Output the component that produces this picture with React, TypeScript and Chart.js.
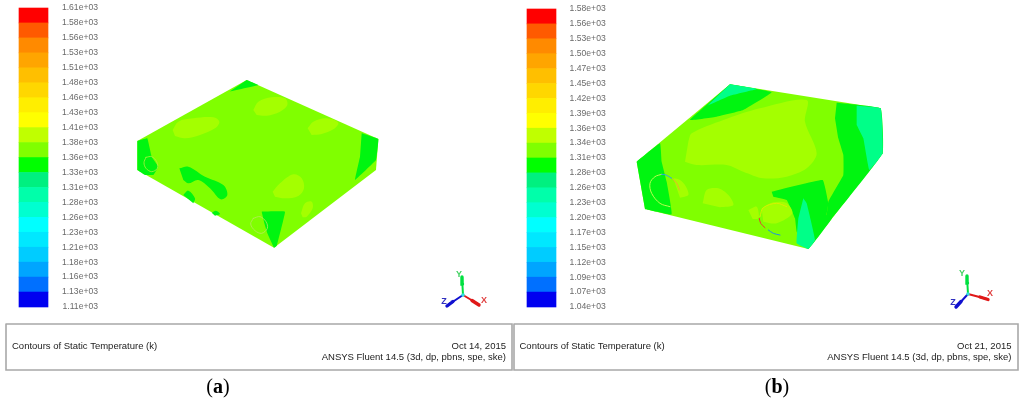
import React, { useEffect, useRef } from "react";
import { Chart, registerables } from "chart.js";

Chart.register(...registerables);

// ---- colour legend ----
const tempTicksA = [1610,1585,1560,1535,1510,1485,1460,1435,1410,1385,1360,1335,1310,1285,1260,1235,1210,1185,1160,1135,1110];
const tempLabelsA = ["1.61e+03","1.58e+03","1.56e+03","1.53e+03","1.51e+03","1.48e+03","1.46e+03","1.43e+03","1.41e+03","1.38e+03","1.36e+03","1.33e+03","1.31e+03","1.28e+03","1.26e+03","1.23e+03","1.21e+03","1.18e+03","1.16e+03","1.13e+03","1.11e+03"];
const tempTicksB = [1580,1553,1526,1499,1472,1445,1418,1391,1364,1337,1310,1283,1256,1229,1202,1175,1148,1121,1094,1067,1040];
const tempLabelsB = ["1.58e+03","1.56e+03","1.53e+03","1.50e+03","1.47e+03","1.45e+03","1.42e+03","1.39e+03","1.36e+03","1.34e+03","1.31e+03","1.28e+03","1.26e+03","1.23e+03","1.20e+03","1.17e+03","1.15e+03","1.12e+03","1.09e+03","1.07e+03","1.04e+03"];
const bandColors = ["#ff0000","#ff5a00","#ff8a00","#ffa500","#ffbf00","#ffd700","#ffee00","#ffff00","#c0ff00","#80ff00","#00ff00","#00f080","#00ffaa","#00ffd0","#00ffff","#00e8ff","#00ccff","#00a5ff","#0070ff","#0000f0"];

// ---- contour regions of panel (a) ----
const BASE = "#80ff00", LIGHT = "#a4ff00", GREEN = "#00f510", TEAL = "#00ff88";
const solidA = [[350,30],[745,207],[738,300],[432,533],[22,300],[22,213]];
const greenA = [
  [[350,30],[385,45],[298,65]],
  [[695,190],[745,207],[738,270],[675,330],[690,260]],
  [[22,213],[52,205],[65,260],[85,290],[70,315],[45,315],[22,300]],
  [[395,425],[465,425],[440,528],[432,533],[412,490],[403,460]],
];
const greenBlobsA = [
  [[148,295],[175,290],[225,320],[280,345],[292,375],[272,388],[240,355],[205,330],[175,340],[160,330]],
  [[160,375],[175,362],[195,385],[190,400]],
  [[245,428],[258,422],[270,432],[255,437]],
];
const lightA = [
  [[370,120],[385,95],[425,82],[465,85],[472,105],[450,125],[410,137],[380,135]],
  [[128,180],[145,155],[190,145],[250,142],[268,155],[255,175],[210,195],[165,205],[135,198]],
  [[533,175],[550,155],[590,145],[625,158],[610,178],[575,192],[545,195]],
  [[428,365],[450,340],[490,313],[515,325],[522,355],[505,378],[465,385],[435,380]],
  [[513,430],[525,400],[545,395],[548,415],[530,440],[518,442]],
];
const ringsA = [
  { pts: [[48,262],[65,260],[80,275],[82,295],[65,305],[48,295],[42,278],[48,262]], color: "#b4f040" },
  { pts: [[370,445],[390,440],[408,455],[412,475],[395,490],[375,482],[362,462],[370,445]], color: "#b8e860" },
];

// ---- contour regions of panel (b) ----
const solidB = [[300,28],[752,100],[758,235],[535,522],[45,402],[20,260]];
const greenB = [
  [[300,28],[425,52],[340,105],[260,125],[180,135],[235,85]],
  [[20,260],[90,205],[95,260],[110,320],[125,418],[45,402]],
  [[620,83],[752,100],[758,235],[606,430],[590,430],[595,380],[640,300],[640,240],[625,190],[615,130]],
  [[425,350],[578,315],[595,385],[590,420],[606,430],[535,522],[500,470],[495,430],[470,375],[430,365]],
];
const tealB = [
  [[300,28],[380,42],[300,62],[232,92]],
  [[680,92],[752,100],[758,235],[718,285],[700,190],[680,150]],
  [[520,370],[530,385],[555,495],[535,522],[500,505],[505,430]],
];
const lightB = [
  [[175,200],[185,175],[280,135],[390,100],[530,75],[525,140],[560,235],[530,280],[470,305],[400,310],[340,290],[290,270],[200,270],[165,260]],
  [[218,385],[230,345],[265,340],[295,360],[310,390],[270,397]],
  [[355,405],[380,395],[386,430],[368,432]],
  [[130,310],[150,315],[168,335],[175,360],[150,368]],
  [[395,400],[430,382],[470,385],[487,415],[440,445],[400,440]],
];
const ringsB = [
  { pts: [[120,395],[90,385],[65,355],[60,325],[75,305],[95,298]], color: "#b8ff50" },
  { pts: [[95,298],[108,300],[125,310]], color: "#30a0e8" },
  { pts: [[128,312],[140,325],[148,345]], color: "#e8b030" },
  { pts: [[388,430],[392,445],[405,458]], color: "#e84030" },
  { pts: [[415,465],[430,475],[450,480]], color: "#2090e0" },
  { pts: [[390,425],[400,398],[440,385],[470,395]], color: "#d8f000" },
];

// ---- orientation triads (page coordinates) ----
const triadsA = [
  { pts: [[463,295],[462,277]], tip: [[462.5,284],[462,277]], color: "#00e040" },
  { pts: [[463,295],[448,305]], tip: [[453,301.5],[447,306]], color: "#1010d0" },
  { pts: [[463,295],[478,304]], tip: [[472,300.5],[479,305]], color: "#e01818" },
];
const triadsB = [
  { pts: [[968,294],[967,277]], tip: [[967.5,283],[967,276]], color: "#00e040" },
  { pts: [[968,294],[957,306]], tip: [[961,301.5],[956,307]], color: "#1010d0" },
  { pts: [[968,294],[987,299]], tip: [[980,297],[988,299.5]], color: "#e01818" },
];
const triadDots = [[463,295],[968,294]];
const triadLetters = [
  { t: "Y", x: 459, y: 275, c: "#40d060" }, { t: "Z", x: 444, y: 302, c: "#3030c0" }, { t: "X", x: 484, y: 301, c: "#e04040" },
  { t: "Y", x: 962, y: 274, c: "#40d060" }, { t: "Z", x: 953, y: 303, c: "#3030c0" }, { t: "X", x: 990, y: 294, c: "#e04040" },
];

// ---- footers ----
const frames = [
  [[6,324],[512,324],[512,370],[6,370],[6,324]],
  [[514,324],[1018,324],[1018,370],[514,370],[514,324]],
];
const footerTexts = [
  { t: "Contours of Static Temperature (k)", x: 12, y: 346, a: "left" },
  { t: "Oct 14, 2015", x: 506, y: 346, a: "right" },
  { t: "ANSYS Fluent 14.5 (3d, dp, pbns, spe, ske)", x: 506, y: 357.5, a: "right" },
  { t: "Contours of Static Temperature (k)", x: 519.5, y: 346, a: "left" },
  { t: "Oct 21, 2015", x: 1011.5, y: 346, a: "right" },
  { t: "ANSYS Fluent 14.5 (3d, dp, pbns, spe, ske)", x: 1011.5, y: 357, a: "right" },
];
const captions = [{ t: "a", x: 218, y: 388 }, { t: "b", x: 777, y: 388 }];

const xy = (pts: number[][]) => pts.map(([x, y]) => ({ x, y }));

function area(pts: number[][], color: string, panel: string, tension = 0.35) {
  return {
    type: "scatter", showLine: true, data: xy(pts), xAxisID: "zx" + panel, yAxisID: "zy" + panel,
    fill: "shape", backgroundColor: color, borderColor: color, borderWidth: 0, pointRadius: 0, tension,
  };
}
function stroke(pts: number[][], color: string, xAxisID: string, yAxisID: string, borderWidth: number, tension = 0) {
  return {
    type: "scatter", showLine: true, data: xy(pts), xAxisID, yAxisID, fill: false,
    borderColor: color, borderWidth, pointRadius: 0, tension, borderCapStyle: "round",
  };
}
function bands(ticks: number[], centre: number, axis: string) {
  return {
    type: "bar", xAxisID: "x", yAxisID: axis, barThickness: 29, grouped: false,
    data: bandColors.map((_, i) => ({ x: centre, y: [ticks[i + 1], ticks[i]] })),
    backgroundColor: bandColors, borderWidth: 0,
  };
}
function tempAxis(min: number, max: number, ticks: number[], labels: string[], at: number) {
  return {
    type: "linear", axis: "y", min, max, position: { x: at },
    grid: { display: false, drawTicks: false }, border: { display: false },
    afterBuildTicks: (s: any) => { s.ticks = ticks.map((value) => ({ value })); },
    afterFit: (s: any) => {
      s.width = 0;
      s.paddingLeft = s.paddingRight = s.paddingTop = s.paddingBottom = 0;
    },
    ticks: {
      autoSkip: false, padding: 0, color: "#6a6a6a",
      font: { family: "'Liberation Sans'", size: 8.6 },
      callback: (_: any, i: number) => labels[i],
    },
  };
}
const hidden = (axis: string, min: number, max: number, reverse = false) => ({
  type: "linear", axis, min, max, reverse, display: false, offset: false,
});

const textPlugin = {
  id: "pageText",
  afterDraw(chart: any) {
    const { ctx, scales } = chart;
    const px = (v: number) => scales.x.getPixelForValue(v);
    const py = (v: number) => scales.y.getPixelForValue(v);
    ctx.save();
    ctx.textBaseline = "middle";
    ctx.font = "9.5px 'Liberation Sans'";
    ctx.fillStyle = "#222";
    for (const f of footerTexts) {
      ctx.textAlign = f.a;
      ctx.fillText(f.t, px(f.x), py(f.y));
    }
    ctx.font = "bold 9px 'Liberation Sans'";
    ctx.textAlign = "center";
    for (const l of triadLetters) {
      ctx.fillStyle = l.c;
      ctx.fillText(l.t, px(l.x), py(l.y));
    }
    ctx.fillStyle = "#000";
    ctx.textAlign = "left";
    const size = 20;
    for (const c of captions) {
      ctx.font = `${size}px 'Liberation Serif'`;
      const open = ctx.measureText("(").width;
      ctx.font = `bold ${size}px 'Liberation Serif'`;
      const mid = ctx.measureText(c.t).width;
      const left = px(c.x) - open - mid / 2;
      ctx.font = `${size}px 'Liberation Serif'`;
      ctx.fillText("(", left, py(c.y));
      ctx.font = `bold ${size}px 'Liberation Serif'`;
      ctx.fillText(c.t, left + open, py(c.y));
      ctx.font = `${size}px 'Liberation Serif'`;
      ctx.fillText(")", left + open + mid, py(c.y));
    }
    ctx.restore();
  },
};

export default function App() {
  const ref = useRef<HTMLCanvasElement>(null);
  useEffect(() => {
    const list: any[] = [
      ...frames.map((f) => stroke(f, "#a8a8a8", "x", "y", 1.6)),
      bands(tempTicksA, 33.5, "tempA"),
      bands(tempTicksB, 541.5, "tempB"),
      area(solidA, BASE, "A", 0),
      ...greenA.map((p) => area(p, GREEN, "A", 0.05)),
      ...greenBlobsA.map((p) => area(p, GREEN, "A")),
      ...lightA.map((p) => area(p, LIGHT, "A")),
      ...ringsA.map((r) => stroke(r.pts, r.color, "zxA", "zyA", 0.8, 0.35)),
      area(solidB, BASE, "B", 0),
      ...greenB.map((p) => area(p, GREEN, "B", 0.08)),
      ...tealB.map((p) => area(p, TEAL, "B", 0.08)),
      ...lightB.map((p) => area(p, LIGHT, "B", 0.3)),
      ...ringsB.map((r) => stroke(r.pts, r.color, "zxB", "zyB", 1, 0.35)),
      ...[...triadsA, ...triadsB].map((t) => stroke(t.pts, t.color, "x", "y", 2)),
      ...[...triadsA, ...triadsB].map((t) => stroke(t.tip, t.color, "x", "y", 3.4)),
      {
        type: "scatter", data: xy(triadDots), xAxisID: "x", yAxisID: "y",
        pointRadius: 1.8, pointBackgroundColor: "#30e0e0", pointBorderWidth: 0,
      },
    ];
    const datasets = list.map((d, i) => ({ ...d, order: list.length - i }));
    const chart = new Chart(ref.current!, {
      type: "scatter",
      data: { datasets },
      plugins: [textPlugin],
      options: {
        responsive: false,
        animation: false,
        layout: { padding: 0, autoPadding: false },
        plugins: { legend: { display: false }, tooltip: { enabled: false } },
        scales: {
          x: hidden("x", 0, 1024),
          y: hidden("y", 0, 405, true),
          zxA: hidden("x", -390, 2682),
          zyA: hidden("y", -210, 1005, true),
          zxB: hidden("x", -1890, 1182),
          zyB: hidden("y", -225, 990, true),
          tempA: tempAxis(946.1, 1623.4, tempTicksA, tempLabelsA, 98),
          tempB: tempAxis(862.4, 1596.3, tempTicksB, tempLabelsB, 605.7),
        },
      } as any,
    } as any);
    return () => chart.destroy();
  }, []);
  return (
    <canvas
      ref={ref}
      width={1024}
      height={405}
      style={{ position: "fixed", left: 0, top: 0, width: 1024, height: 405, filter: "blur(0.6px)" }}
    />
  );
}
